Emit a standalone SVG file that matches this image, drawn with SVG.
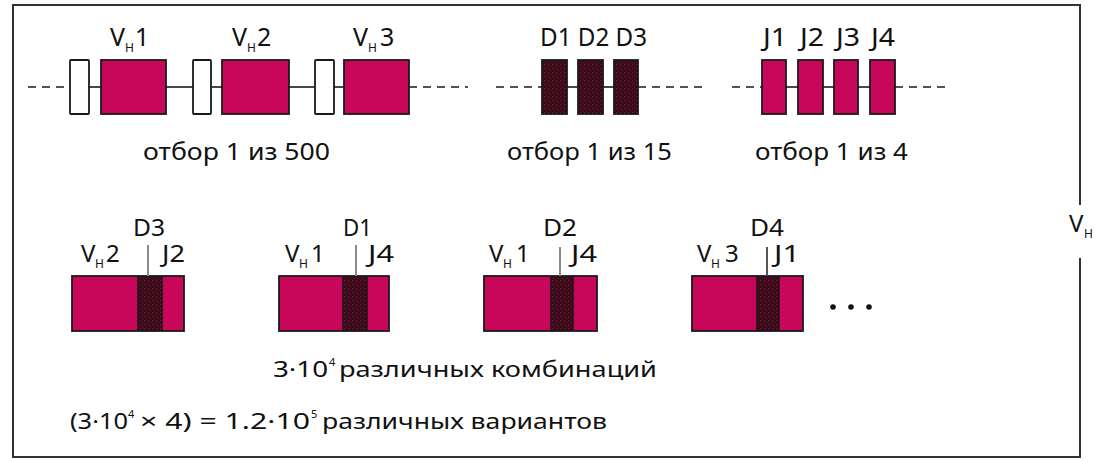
<svg xmlns="http://www.w3.org/2000/svg" width="1096" height="461" viewBox="0 0 1096 461">
  <defs>
    <!-- speckled dark fill used for D segments -->
    <pattern id="dgrain" width="4" height="4" patternUnits="userSpaceOnUse">
      <rect width="4" height="4" fill="#3a0b18"/>
      <rect x="0" y="0" width="1" height="1" fill="#7d1a3a"/>
      <rect x="2" y="2" width="1" height="1" fill="#6a1530"/>
    </pattern>
    <style>
      text { font-family: "Noto Sans", "Liberation Sans", sans-serif; fill: #111; }
      .lbl { font-size: 25px; }
      .lbl2 { font-size: 24px; }
      .sub { font-size: 12px; }
      .cap { font-size: 23px; }
      .note { font-size: 21px; }
      .sup { font-size: 11px; }
      .v { fill: #c8065a; stroke: #1a1a1a; stroke-width: 1.8; }
      .d { fill: url(#dgrain); stroke: #1a1a1a; stroke-width: 1.8; }
      .w { fill: #ffffff; stroke: #1a1a1a; stroke-width: 1.8; }
      .seg { fill: #c8065a; stroke: none; }
      .dseg { fill: url(#dgrain); stroke: none; }
      .outline { fill: none; stroke: #1a1a1a; stroke-width: 1.8; }
      .solid { stroke: #1a1a1a; stroke-width: 1.6; fill: none; }
      .dash { stroke: #1a1a1a; stroke-width: 1.6; fill: none; stroke-dasharray: 8 6; }
      .tick { stroke: #8a8a8a; stroke-width: 2; }
      .frame { stroke: #333; stroke-width: 2; fill: none; }
    </style>
  </defs>

  <rect width="1096" height="461" fill="#ffffff"/>

  <!-- outer frame, open on the right for the label -->
  <path class="frame" d="M1080,205 V5 H13 V457 H1080 V258"/>
  <text class="lbl2" x="1069" y="232">V</text>
  <text class="sub" x="1084" y="238">H</text>

  <!-- chromosome lines -->
  <g id="connectors">
    <line class="dash" x1="28" y1="87" x2="70" y2="87"/>
    <line class="solid" x1="89" y1="87" x2="101" y2="87"/>
    <line class="solid" x1="166" y1="87" x2="193" y2="87"/>
    <line class="solid" x1="211" y1="87" x2="222" y2="87"/>
    <line class="solid" x1="289" y1="87" x2="315" y2="87"/>
    <line class="solid" x1="334" y1="87" x2="344" y2="87"/>
    <line class="dash" x1="409" y1="87" x2="468" y2="87"/>

    <line class="dash" x1="496" y1="87" x2="542" y2="87"/>
    <line class="solid" x1="567" y1="87" x2="578" y2="87"/>
    <line class="solid" x1="603" y1="87" x2="614" y2="87"/>
    <line class="dash" x1="638" y1="87" x2="702" y2="87"/>

    <line class="dash" x1="732" y1="87" x2="762" y2="87"/>
    <line class="solid" x1="786" y1="87" x2="798" y2="87"/>
    <line class="solid" x1="823" y1="87" x2="834" y2="87"/>
    <line class="solid" x1="858" y1="87" x2="870" y2="87"/>
    <line class="dash" x1="895" y1="87" x2="950" y2="87"/>
  </g>

  <!-- V segments -->
  <g id="leader1"><rect class="w" x="70" y="60" width="19" height="54" rx="1"/></g>
  <g id="vh1">
    <rect class="v" x="101" y="60" width="65" height="54"/>
    <text class="lbl" x="110" y="46">V</text><text class="sub" x="125" y="52">H</text><text class="lbl" x="135" y="46">1</text>
  </g>
  <g id="leader2"><rect class="w" x="193" y="60" width="18" height="54" rx="1"/></g>
  <g id="vh2">
    <rect class="v" x="222" y="60" width="67" height="54"/>
    <text class="lbl" x="232" y="46">V</text><text class="sub" x="247" y="52">H</text><text class="lbl" x="257" y="46">2</text>
  </g>
  <g id="leader3"><rect class="w" x="315" y="60" width="19" height="54" rx="1"/></g>
  <g id="vh3">
    <rect class="v" x="344" y="60" width="65" height="54"/>
    <text class="lbl" x="353" y="46">V</text><text class="sub" x="368" y="52">H</text><text class="lbl" x="380" y="46">3</text>
  </g>
  <g id="v-caption">
    <text class="cap" x="143" y="160" textLength="187" lengthAdjust="spacingAndGlyphs">отбор 1 из 500</text>
  </g>

  <!-- D segments -->
  <g id="d-segments">
    <rect class="d" x="542" y="60" width="25" height="54"/>
    <rect class="d" x="578" y="60" width="25" height="54"/>
    <rect class="d" x="614" y="60" width="24" height="54"/>
    <text class="lbl" x="540" y="46" textLength="107" lengthAdjust="spacingAndGlyphs">D1 D2 D3</text>
    <text class="cap" x="507" y="160" textLength="165" lengthAdjust="spacingAndGlyphs">отбор 1 из 15</text>
  </g>

  <!-- J segments -->
  <g id="j-segments">
    <rect class="v" x="762" y="60" width="24" height="54"/>
    <rect class="v" x="798" y="60" width="25" height="54"/>
    <rect class="v" x="834" y="60" width="24" height="54"/>
    <rect class="v" x="870" y="60" width="25" height="54"/>
    <text class="lbl" x="763" y="46" textLength="24" lengthAdjust="spacingAndGlyphs">J1</text>
    <text class="lbl" x="800" y="46" textLength="24" lengthAdjust="spacingAndGlyphs">J2</text>
    <text class="lbl" x="836" y="46" textLength="24" lengthAdjust="spacingAndGlyphs">J3</text>
    <text class="lbl" x="871" y="46" textLength="24" lengthAdjust="spacingAndGlyphs">J4</text>
    <text class="cap" x="755" y="160" textLength="153" lengthAdjust="spacingAndGlyphs">отбор 1 из 4</text>
  </g>

  <!-- rearranged VDJ combinations -->
  <g id="combo1">
    <rect class="seg" x="72" y="276" width="66" height="55"/>
    <rect class="dseg" x="138" y="276" width="24" height="55"/>
    <rect class="seg" x="162" y="276" width="22" height="55"/>
    <line class="solid" x1="138" y1="276" x2="138" y2="331"/>
    <line class="solid" x1="162" y1="276" x2="162" y2="331"/>
    <rect class="outline" x="72" y="276" width="112" height="55"/>
    <line class="tick" x1="148" y1="245" x2="148" y2="276"/>
    <text class="lbl2" x="133" y="236" textLength="32" lengthAdjust="spacingAndGlyphs">D3</text>
    <text class="lbl2" x="81" y="262">V</text><text class="sub" x="95" y="268">H</text><text class="lbl2" x="106" y="262">2</text>
    <text class="lbl2" x="162" y="262" textLength="23" lengthAdjust="spacingAndGlyphs">J2</text>
  </g>

  <g id="combo2">
    <rect class="seg" x="279" y="276" width="64" height="55"/>
    <rect class="dseg" x="343" y="276" width="24" height="55"/>
    <rect class="seg" x="367" y="276" width="22" height="55"/>
    <line class="solid" x1="343" y1="276" x2="343" y2="331"/>
    <line class="solid" x1="367" y1="276" x2="367" y2="331"/>
    <rect class="outline" x="279" y="276" width="110" height="55"/>
    <line class="tick" x1="356" y1="245" x2="356" y2="276"/>
    <text class="lbl2" x="343" y="236" textLength="29" lengthAdjust="spacingAndGlyphs">D1</text>
    <text class="lbl2" x="285" y="262">V</text><text class="sub" x="299" y="268">H</text><text class="lbl2" x="311" y="262">1</text>
    <text class="lbl2" x="368" y="262" textLength="26" lengthAdjust="spacingAndGlyphs">J4</text>
  </g>

  <g id="combo3">
    <rect class="seg" x="484" y="276" width="67" height="55"/>
    <rect class="dseg" x="551" y="276" width="22" height="55"/>
    <rect class="seg" x="573" y="276" width="24" height="55"/>
    <line class="solid" x1="551" y1="276" x2="551" y2="331"/>
    <line class="solid" x1="573" y1="276" x2="573" y2="331"/>
    <rect class="outline" x="484" y="276" width="113" height="55"/>
    <line class="tick" x1="560" y1="247" x2="560" y2="276"/>
    <text class="lbl2" x="543" y="236" textLength="34" lengthAdjust="spacingAndGlyphs">D2</text>
    <text class="lbl2" x="489" y="262">V</text><text class="sub" x="503" y="268">H</text><text class="lbl2" x="516" y="262">1</text>
    <text class="lbl2" x="571" y="262" textLength="26" lengthAdjust="spacingAndGlyphs">J4</text>
  </g>

  <g id="combo4">
    <rect class="seg" x="692" y="276" width="65" height="55"/>
    <rect class="dseg" x="757" y="276" width="22" height="55"/>
    <rect class="seg" x="779" y="276" width="24" height="55"/>
    <line class="solid" x1="757" y1="276" x2="757" y2="331"/>
    <line class="solid" x1="779" y1="276" x2="779" y2="331"/>
    <rect class="outline" x="692" y="276" width="111" height="55"/>
    <line class="tick" x1="767" y1="247" x2="767" y2="276" style="stroke:#555"/>
    <text class="lbl2" x="750" y="236" textLength="34" lengthAdjust="spacingAndGlyphs">D4</text>
    <text class="lbl2" x="697" y="262">V</text><text class="sub" x="711" y="268">H</text><text class="lbl2" x="725" y="262">3</text>
    <text class="lbl2" x="774" y="262" textLength="26" lengthAdjust="spacingAndGlyphs">J1</text>
  </g>

  <g id="ellipsis">
    <circle cx="833" cy="307" r="2.8" fill="#111"/>
    <circle cx="851" cy="307" r="2.8" fill="#111"/>
    <circle cx="869" cy="307" r="2.8" fill="#111"/>
  </g>

  <!-- totals -->
  <g id="totals">
    <text class="note" x="273" y="377" textLength="55" lengthAdjust="spacingAndGlyphs">3·10</text>
    <text class="sup" x="329" y="366">4</text>
    <text class="note" x="339" y="377" textLength="318" lengthAdjust="spacingAndGlyphs">различных комбинаций</text>

    <text class="note" x="70" y="429" textLength="58" lengthAdjust="spacingAndGlyphs">(3·10</text>
    <text class="sup" x="128" y="418">4</text>
    <text class="note" x="140" y="429" textLength="170" lengthAdjust="spacingAndGlyphs">× 4) = 1.2·10</text>
    <text class="sup" x="311" y="418">5</text>
    <text class="note" x="322" y="429" textLength="285" lengthAdjust="spacingAndGlyphs">различных вариантов</text>
  </g>
</svg>
